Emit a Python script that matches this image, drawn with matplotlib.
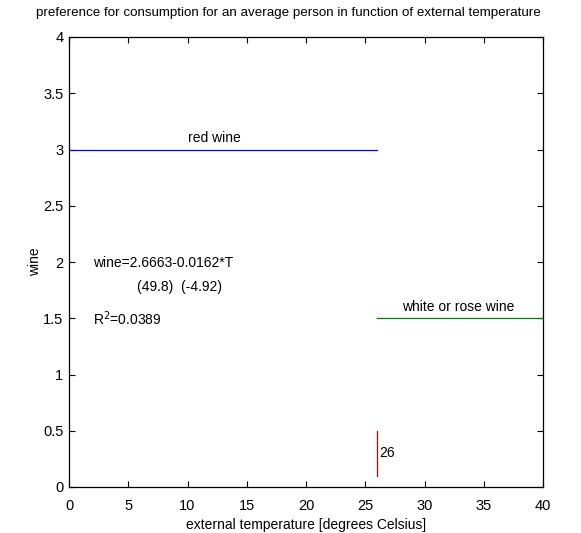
import matplotlib
matplotlib.use("Agg")
import matplotlib.pyplot as plt

plt.rcParams['font.family'] = ['Liberation Sans', 'DejaVu Sans']

# segments of the chart
red_x = [0, 26]
red_y = [3, 3]
white_x = [26, 40]
white_y = [1.5, 1.5]
mark_x = [26, 26]
mark_y = [0.1, 0.5]

xticks = [0, 5, 10, 15, 20, 25, 30, 35, 40]
yticks = [0, 0.5, 1, 1.5, 2, 2.5, 3, 3.5, 4]
yticklabels = ['0', '0.5', '1', '1.5', '2', '2.5', '3', '3.5', '4']

fig = plt.figure(figsize=(5.81, 5.33), dpi=100)
ax = fig.add_axes([69/581, 1 - 487/533, (543 - 69)/581, (487 - 37)/533])

ax.plot(red_x, red_y, color='#0000ff', lw=0.9)
ax.plot(white_x, white_y, color='#008000', lw=0.9)
ax.plot(mark_x, mark_y, color='#c00000', lw=0.9)

fs = 10
ax.text(10, 3.04, 'red wine', fontsize=fs, va='bottom')
ax.text(28.1, 1.54, 'white or rose wine', fontsize=fs, va='bottom')
ax.text(26.2, 0.3, '26', fontsize=fs, va='center')
ax.text(2.0, 1.99, 'wine=2.6663-0.0162*T', fontsize=fs, va='center')
ax.text(5.7, 1.78, '(49.8)  (-4.92)', fontsize=fs, va='center')
ax.text(2.0, 1.5, r'R$^2$=0.0389', fontsize=fs, va='center')

ax.set_xlim(0, 40)
ax.set_ylim(0, 4)
ax.set_xticks(xticks)
ax.set_yticks(yticks)
ax.set_yticklabels(yticklabels)
ax.tick_params(direction='in', top=True, right=True, labelsize=10.5, length=4, width=0.8)
ax.tick_params(axis='x', pad=9)
ax.tick_params(axis='y', pad=4)
for s in ax.spines.values():
    s.set_linewidth(0.9)

ax.set_xlabel('external temperature [degrees Celsius]', fontsize=fs, labelpad=3)
ax.set_ylabel('wine', fontsize=fs, labelpad=1)
fig.text(288/581, 1 - 13/533,
         'preference for consumption for an average person in function of external temperature',
         fontsize=9.6, ha='center', va='center')

fig.savefig('out.png', dpi=100)
